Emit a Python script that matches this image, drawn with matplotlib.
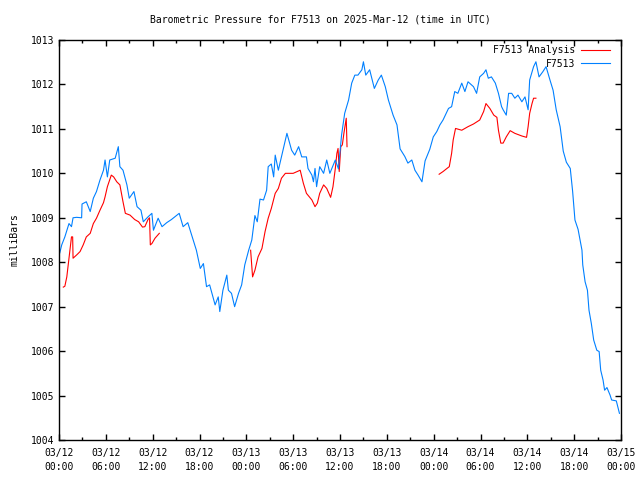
import numpy as np
import matplotlib
matplotlib.use('Agg')
import matplotlib.pyplot as plt
from matplotlib.ticker import MultipleLocator

plt.rcParams['font.family'] = 'DejaVu Sans Mono'
plt.rcParams['font.size'] = 7

# Horas desde 03/12 00:00 UTC
blue_t = [0.1, 0.35, 0.75, 1.28, 1.6, 1.8, 2.26, 2.9, 2.95, 3.5, 4.0, 4.4, 4.8, 5.25, 5.7, 5.9,
          6.2, 6.5, 7.2, 7.6, 7.8, 8.2, 8.7, 9.0, 9.6, 10.0, 10.5, 10.8, 11.4, 11.9, 12.1, 12.7,
          13.2, 13.8, 14.4, 15.4, 15.9, 16.5, 17.0, 17.6, 18.1, 18.5, 18.9, 19.3, 20.0, 20.4,
          20.6, 21.0, 21.5, 21.7, 22.1, 22.5, 23.0, 23.4, 23.8, 24.3, 24.7, 25.1, 25.4, 25.75,
          26.2, 26.6, 26.8, 27.2, 27.5, 27.7, 28.1, 28.7, 29.2, 29.8, 30.2, 30.7, 31.1, 31.7,
          31.9, 32.4, 32.6, 32.8, 33.0, 33.4, 33.9, 34.3, 34.7, 35.4, 35.8, 36.2, 36.6, 37.1,
          37.5, 37.9, 38.3, 38.8, 39.0, 39.3, 39.8, 40.4, 40.9, 41.3, 41.8, 42.2, 42.8, 43.3,
          43.7, 44.3, 44.7, 45.2, 45.6, 46.0, 46.5, 46.9, 47.5, 47.95, 48.4, 48.8, 49.2, 49.9,
          50.3, 50.7, 51.1, 51.6, 52.0, 52.4, 53.1, 53.5, 53.9, 54.4, 54.7, 55.0, 55.4, 55.9,
          56.3, 56.7, 56.9, 57.3, 57.6, 58.0, 58.4, 58.8, 59.3, 59.7, 60.1, 60.3, 60.8, 61.1,
          61.5, 62.0, 62.4, 62.9, 63.3, 63.7, 64.2, 64.6, 65.0, 65.5, 65.8, 66.1, 66.5, 67.0,
          67.1, 67.4, 67.7, 67.9, 68.2, 68.5, 68.9, 69.2, 69.4, 69.7, 69.9, 70.2, 70.6, 70.8,
          71.4, 71.8]
blue_p = [1008.21, 1008.39, 1008.57, 1008.87, 1008.8, 1009.0, 1009.01, 1009.0, 1009.31, 1009.36,
          1009.14, 1009.44, 1009.59, 1009.85, 1010.07, 1010.3, 1009.92, 1010.3, 1010.34, 1010.6,
          1010.15, 1010.07, 1009.74, 1009.44, 1009.59, 1009.25, 1009.17, 1008.91, 1009.02, 1009.1,
          1008.72, 1008.99, 1008.8, 1008.89, 1008.96, 1009.1, 1008.8, 1008.89, 1008.61, 1008.27,
          1007.86, 1007.97, 1007.45, 1007.49, 1007.04, 1007.22, 1006.89, 1007.37, 1007.71, 1007.37,
          1007.3, 1007.0, 1007.3, 1007.49, 1007.94, 1008.27, 1008.5, 1009.05, 1008.91, 1009.42,
          1009.4, 1009.62, 1010.15, 1010.21, 1009.92, 1010.41, 1010.07, 1010.52, 1010.9, 1010.52,
          1010.41, 1010.6, 1010.37, 1010.37, 1010.11, 1009.96, 1009.81, 1010.11, 1009.7, 1010.15,
          1010.0, 1010.3, 1010.0, 1010.3, 1010.1, 1010.86, 1011.35, 1011.65, 1012.03, 1012.21,
          1012.21, 1012.33, 1012.51, 1012.21, 1012.33, 1011.91, 1012.1, 1012.21, 1011.95, 1011.65,
          1011.31, 1011.09, 1010.55, 1010.38, 1010.23, 1010.3, 1010.07, 1009.96, 1009.81, 1010.28,
          1010.54, 1010.82, 1010.94, 1011.09, 1011.2, 1011.46, 1011.5, 1011.84, 1011.8, 1012.03,
          1011.84, 1012.06, 1011.95, 1011.8, 1012.17, 1012.25, 1012.33, 1012.14, 1012.17, 1012.03,
          1011.8, 1011.5, 1011.43, 1011.31, 1011.8, 1011.8, 1011.69, 1011.76, 1011.61, 1011.72,
          1011.43, 1012.1, 1012.4, 1012.51, 1012.17, 1012.29, 1012.4, 1012.1, 1011.87, 1011.43,
          1011.05, 1010.5, 1010.25, 1010.11, 1009.6, 1008.95, 1008.74, 1008.27, 1007.94, 1007.56,
          1007.37, 1006.92, 1006.62, 1006.25, 1006.02, 1005.99, 1005.57, 1005.35, 1005.12, 1005.18,
          1005.01, 1004.9, 1004.88, 1004.6]

# Análisis (NaN = hueco entre tramos)
red_t = [0.55, 0.75, 1.0, 1.2, 1.4, 1.6, 1.75, 1.8, 2.3, 2.7, 3.1, 3.5, 4.0, 4.4, 4.8, 5.25, 5.7,
         5.9, 6.2, 6.7, 7.0, 7.4, 7.8, 8.0, 8.2, 8.5, 9.1, 9.7, 10.2, 10.7, 11.0, 11.4, 11.6, 11.7,
         11.9, 12.3, 12.85, np.nan,
         24.55, 24.8, 25.1, 25.5, 26.0, 26.4, 26.8, 27.2, 27.7, 28.1, 28.5, 29.0, 30.0, 30.9, 31.3,
         31.7, 32.4, 32.8, 33.1, 33.4, 33.9, 34.3, 34.8, 35.1, 35.4, 35.6, 35.75, 35.9, 36.1, 36.3,
         36.5, 36.8, 36.9, np.nan,
         48.7, 49.2, 49.7, 50.0, 50.3, 50.5, 50.8, 51.6, 52.4, 53.1, 53.9, 54.4, 54.7, 55.2, 55.7,
         56.1, 56.3, 56.6, 56.9, 57.3, 57.8, 58.4, 59.3, 59.9, 60.1, 60.3, 60.6, 60.8, 61.1]
red_p = [1007.44, 1007.46, 1007.67, 1007.97, 1008.27, 1008.57, 1008.57, 1008.09, 1008.17, 1008.24,
         1008.39, 1008.57, 1008.65, 1008.87, 1008.99, 1009.17, 1009.34, 1009.47, 1009.7, 1009.96,
         1009.92, 1009.81, 1009.74, 1009.55, 1009.36, 1009.1, 1009.06, 1008.96, 1008.91, 1008.79,
         1008.8, 1008.96, 1009.0, 1008.39, 1008.42, 1008.54, 1008.65, np.nan,
         1008.27, 1007.67, 1007.82, 1008.12, 1008.31, 1008.69, 1008.99, 1009.21, 1009.55, 1009.66,
         1009.89, 1010.0, 1010.0, 1010.07, 1009.78, 1009.55, 1009.4, 1009.25, 1009.33, 1009.55,
         1009.74, 1009.66, 1009.46, 1009.7, 1010.11, 1010.45, 1010.56, 1010.04, 1010.6, 1010.64,
         1010.9, 1011.24, 1010.6, np.nan,
         1009.98, 1010.04, 1010.11, 1010.15, 1010.45, 1010.75, 1011.01, 1010.97, 1011.05, 1011.11,
         1011.2, 1011.39, 1011.57, 1011.46, 1011.31, 1011.26, 1010.97, 1010.68, 1010.68, 1010.82,
         1010.96, 1010.9, 1010.84, 1010.81, 1011.05, 1011.35, 1011.57, 1011.69, 1011.69]

xtick_hours = list(range(0, 73, 6))
xtick_labels = ['03/12\n00:00', '03/12\n06:00', '03/12\n12:00', '03/12\n18:00',
                '03/13\n00:00', '03/13\n06:00', '03/13\n12:00', '03/13\n18:00',
                '03/14\n00:00', '03/14\n06:00', '03/14\n12:00', '03/14\n18:00',
                '03/15\n00:00']

fig = plt.figure(figsize=(6.4, 4.8), dpi=100)
ax = fig.add_axes([59/640, 40/480, 562/640, 400/480])

ax.plot(red_t, red_p, color='#ff0000', lw=0.8, label='F7513 Analysis')
ax.plot(blue_t, blue_p, color='#0080ff', lw=0.8, label='F7513')

ax.set_xlim(0, 72)
ax.set_ylim(1004, 1013)
ax.set_xticks(xtick_hours)
ax.set_xticklabels(xtick_labels, linespacing=1.5)
ax.xaxis.set_minor_locator(MultipleLocator(3))
ax.yaxis.set_major_locator(MultipleLocator(1))
ax.tick_params(which='both', direction='in', top=True, right=True, width=1)
ax.tick_params(which='major', length=4)
ax.tick_params(which='minor', length=2)
ax.tick_params(axis='x', pad=6)
for s in ax.spines.values():
    s.set_linewidth(1)

ax.set_ylabel('milliBars', labelpad=8)
fig.suptitle('Barometric Pressure for F7513 on 2025-Mar-12 (time in UTC)', y=0.97, fontsize=7)

ax.legend(loc='upper right', bbox_to_anchor=(0.983, 0.989), frameon=False, markerfirst=False,
          handlelength=3.0, borderaxespad=0, borderpad=0.1, labelspacing=0.35, handletextpad=0.6)

fig.savefig('out.png', dpi=100)
